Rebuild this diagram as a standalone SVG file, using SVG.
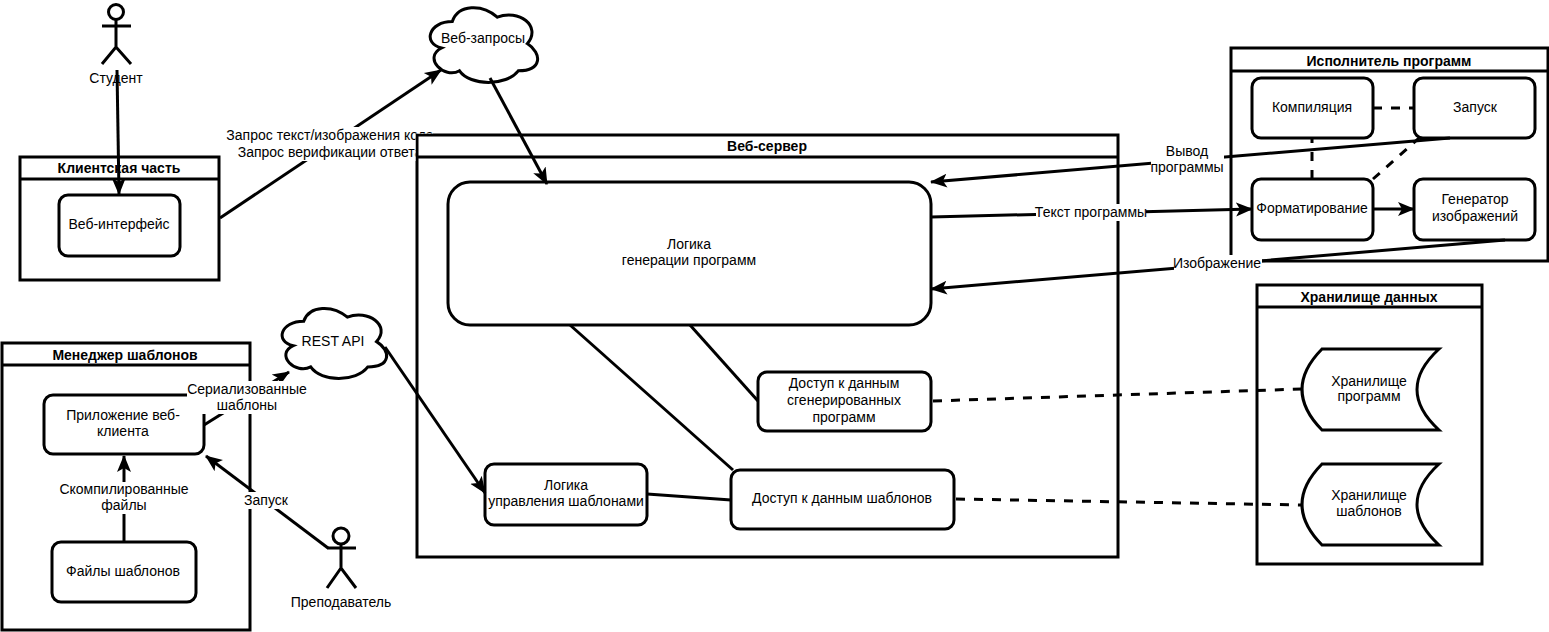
<svg xmlns="http://www.w3.org/2000/svg" width="1549" height="632" viewBox="0 0 1549 632">
<style>
text{font-family:"Liberation Sans",Arial,sans-serif;font-size:14px;fill:#000;text-anchor:middle}
.t{font-weight:bold}
.s{fill:#fff;stroke:#000;stroke-width:3}
.n{fill:none;stroke:#000;stroke-width:3}
.c{fill:none;stroke:#000;stroke-width:3}
.a{marker-end:url(#ar)}
.d{stroke-dasharray:9 9}
.l{fill:#fff;stroke:none}
</style>
<defs>
<marker id="ar" markerUnits="userSpaceOnUse" markerWidth="18" markerHeight="16" viewBox="0 0 18 16" refX="16" refY="8" orient="auto"><path d="M17,8 L0,1 L4,8 L0,15 Z" fill="#000"/></marker>
<clipPath id="cl"><path d="M200,110 H450 V133.500 H415.500 V180 H200 Z"/></clipPath>
</defs>
<rect width="1549" height="632" fill="#fff"/>
<g id="lane-client"><rect class="s" x="20" y="157" width="199" height="123"/><path class="n" d="M20,179 H219"/><text class="t" x="119" y="173">Клиентская часть</text></g>
<g id="node-webui"><rect class="s" x="59" y="195" width="121" height="61" rx="9"/><text x="119" y="229">Веб-интерфейс</text></g>
<g id="lane-server"><rect class="s" x="417" y="135" width="701" height="422"/><path class="n" d="M417,157 H1118"/><text class="t" x="767" y="151">Веб-сервер</text></g>
<g id="node-logic"><rect class="s" x="448" y="182" width="483" height="143" rx="22"/><text x="689" y="249">Логика</text><text x="689" y="265">генерации программ</text></g>
<g id="node-genaccess"><rect class="s" x="758" y="372" width="173" height="59" rx="9"/><text x="844" y="388">Доступ к данным</text><text x="844" y="405">сгенерированных</text><text x="844" y="422">программ</text></g>
<g id="node-tplaccess"><rect class="s" x="731" y="470" width="223" height="59" rx="9"/><text x="842" y="503">Доступ к данным шаблонов</text></g>
<g id="node-tpllogic"><rect class="s" x="485" y="464" width="162" height="61" rx="9"/><text x="566" y="490">Логика</text><text x="566" y="506">управления шаблонами</text></g>
<g id="lane-storage"><rect class="s" x="1257" y="285" width="225" height="279"/><path class="n" d="M1257,307 H1482"/><text class="t" x="1369" y="302">Хранилище данных</text></g>
<g id="node-progstore"><path class="s" d="M1322,349 H1439 Q1395,389.500 1439,430 H1322 Q1282,389.500 1322,349 Z"/><text x="1369" y="386">Хранилище</text><text x="1369" y="401">программ</text></g>
<g id="node-tplstore"><path class="s" d="M1322,464 H1439 Q1395,504.500 1439,545 H1322 Q1282,504.500 1322,464 Z"/><text x="1369" y="500">Хранилище</text><text x="1369" y="516">шаблонов</text></g>
<g id="lane-exec"><rect class="s" x="1231" y="48" width="317" height="213"/><path class="n" d="M1231,71 H1548"/><text class="t" x="1389" y="66">Исполнитель программ</text></g>
<g id="node-compile"><rect class="s" x="1252" y="78" width="121" height="60" rx="9"/><text x="1312" y="112">Компиляция</text></g>
<g id="node-run"><rect class="s" x="1414" y="78" width="121" height="60" rx="9"/><text x="1475" y="112">Запуск</text></g>
<g id="node-format"><rect class="s" x="1252" y="179" width="121" height="61" rx="9"/><text x="1312" y="213">Форматирование</text></g>
<g id="node-imggen"><rect class="s" x="1414" y="179" width="121" height="61" rx="9"/><text x="1475" y="204">Генератор</text><text x="1475" y="221">изображений</text></g>
<g id="lane-manager"><rect class="s" x="2" y="343" width="248" height="287"/><path class="n" d="M2,365 H250"/><text class="t" x="125" y="360">Менеджер шаблонов</text></g>
<g id="node-webclient"><rect class="s" x="44" y="395" width="160" height="59" rx="9"/><text x="123" y="420">Приложение веб-</text><text x="123" y="436">клиента</text></g>
<g id="node-tplfiles"><rect class="s" x="52" y="542" width="144" height="60" rx="9"/><text x="123" y="576">Файлы шаблонов</text></g>
<g id="cloud-web"><path class="s" d="M452.300,21.600 C428.400,21.600 422.400,43.600 441.600,48 C422.400,57.600 444,79.600 459.500,70.800 C470.300,86.300 506.300,86.300 518.300,70.800 C542.300,70.800 542.300,53.400 527.300,43.600 C542.300,26 518.300,8.500 497.300,17.200 C482.300,4 458.300,4 452.300,21.600 Z"/><text x="483" y="43">Веб-запросы</text></g>
<g id="cloud-rest"><path class="s" d="M303.700,321.200 C280.400,321.200 274.500,341.600 293.200,345.700 C274.500,354.600 295.500,375 310.700,366.900 C321.200,382.300 356.200,382.300 367.800,366.900 C391.200,366.900 391.200,350.600 376.600,341.600 C391.200,325.300 367.800,309 347.400,317.100 C332.800,304.900 309.500,304.900 303.700,321.200 Z"/><text x="333" y="346">REST API</text></g>
<g id="actor-student"><circle class="n" cx="116" cy="12" r="7.500"/><path class="n" d="M116,20 V47 M102,26 H131 M102,64 L116,47 L131,64"/><text x="116" y="83">Студент</text></g>
<g id="actor-teacher"><circle class="n" cx="341" cy="536" r="8"/><path class="n" d="M341,544 V568 M327,548 H356 M327,588 L341,568 L356,588"/><text x="341" y="607">Преподаватель</text></g>
<g id="connectors">
<path class="c a" d="M117,70 L119,194"/>
<path class="c a" d="M220,218 L441,70"/>
<g clip-path="url(#cl)"><rect class="l" x="227" y="127" width="206" height="34"/><text x="330" y="140">Запрос текст/изображения кода</text><text x="330" y="157">Запрос верификации ответа</text></g>
<path class="c a" d="M490,78 L547,184"/>
<path class="c" d="M570,325 L733,470"/>
<path class="c" d="M690,325 L758,401"/>
<path class="c" d="M647,494 L731,500"/>
<path class="c d" d="M933,401 L1302,389"/>
<path class="c d" d="M956,499 L1302,505"/>
<path class="c d" d="M1373,108 H1414"/>
<path class="c d" d="M1312,179 V138"/>
<path class="c d" d="M1373,179 L1419,138"/>
<path class="c a" d="M1373,209 H1414"/>
<path class="c a" d="M1450,138 L931,182"/>
<rect class="l" x="1151" y="143" width="73" height="34"/><text x="1187" y="156">Вывод</text><text x="1187" y="172">программы</text>
<path class="c a" d="M931,217 L1252,209"/>
<rect class="l" x="1036" y="204" width="110" height="17"/><text x="1091" y="217">Текст программы</text>
<path class="c a" d="M1505,240 L931,289"/>
<rect class="l" x="1174" y="255" width="88" height="17"/><text x="1217" y="268">Изображение</text>
<path class="c a" d="M124,541 V456"/>
<rect class="l" x="60" y="482" width="129" height="32"/><text x="124" y="494">Скомпилированные</text><text x="124" y="510">файлы</text>
<path class="c a" d="M204,425 L289,372"/>
<rect class="l" x="187" y="381" width="121" height="33"/><text x="247" y="394">Сериализованные</text><text x="247" y="410">шаблоны</text>
<path class="c a" d="M328,548 L206,456"/>
<rect class="l" x="244" y="492" width="44" height="17"/><text x="266" y="505">Запуск</text>
<path class="c a" d="M385,347 L485,493"/>
</g>
</svg>
